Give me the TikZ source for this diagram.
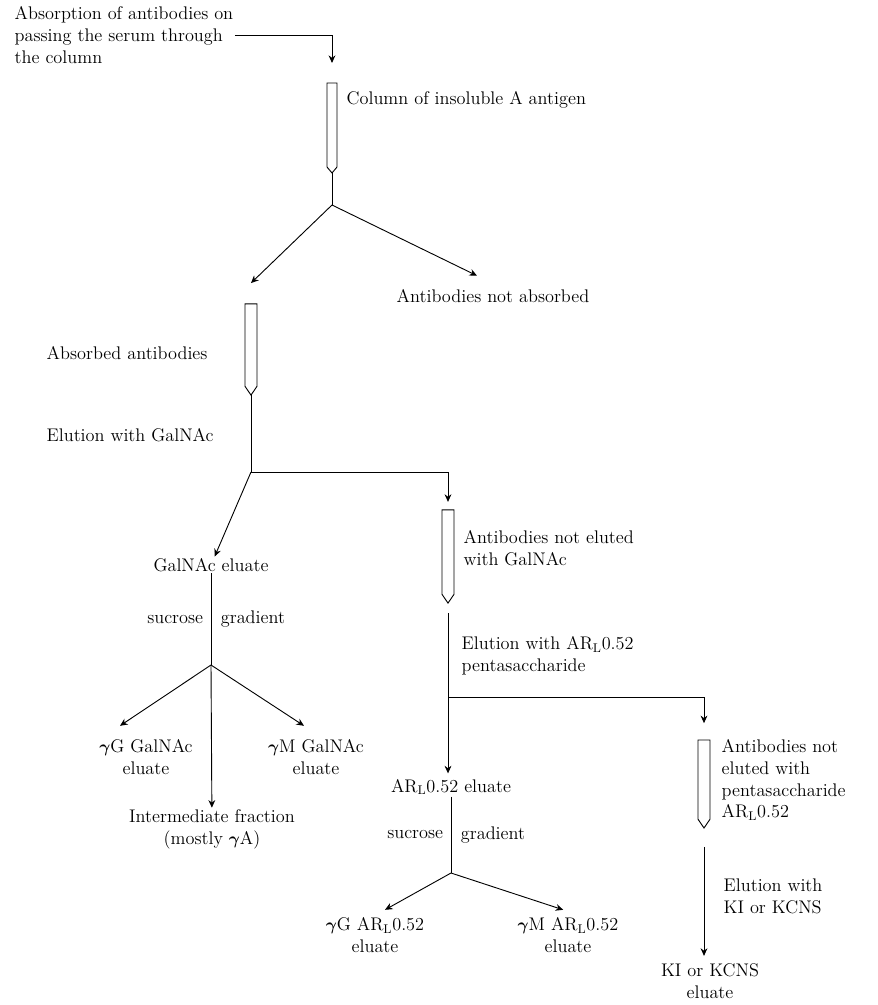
\documentclass[tikz,border=0pt]{standalone}
\usepackage{amsmath,amssymb}
\usepackage{tikz}
\usetikzlibrary{arrows.meta, positioning, calc}
\tikzstyle{txt} = [font=\fontsize{13}{15.5}\selectfont, inner sep=1pt, align=center]
\tikzstyle{lab} = [txt, align=left, anchor=west]
\tikzstyle{tube} = [rectangle, minimum width=0.3cm, inner sep=0pt, outer sep=0pt]
\tikzstyle{ln} = [line width=0.65pt]
\tikzstyle{arr} = [-{Stealth[length=1.9mm, width=1.7mm]}, line width=0.65pt]
\newcommand{\tubeoutline}[2][0.22cm]{\draw[ln] (#2.north west) -- (#2.north east) -- ([yshift=#1]#2.south east) -- (#2.south) -- ([yshift=#1]#2.south west) -- cycle;}
\newcommand{\ARL}{AR$_{\mathrm{L}}$0.52}
\newcommand{\gam}{$\boldsymbol{\gamma}$}

\begin{document}
\begin{tikzpicture}[x=0.025cm, y=-0.025cm]
  \useasboundingbox (0,0) rectangle (877,1005);
  % Step 1: serum through the antigen column
  \node[lab] (serum) at (13,35) {Absorption of antibodies on\\passing the serum through\\the column};
  \node[tube, minimum width=0.25cm, minimum height=2.25cm] (col1) at (332,128) {};
  \tubeoutline[0.15cm]{col1}
  \node[lab] (col1lab) at (345,100) {Column of insoluble A antigen};
  \coordinate (j1) at (332,205);
  \node[txt] (notabs) at (493,296) {Antibodies not absorbed};
  \draw[arr, shorten >=0.5cm] (serum.east) -| (col1.north);
  \draw[ln] (col1.south) -- (j1);
  \draw[arr] (j1) -- ([xshift=-0.4cm, yshift=0.3cm]notabs.north);
  % Step 2: absorbed antibodies, elution with GalNAc
  \node[tube, minimum height=2.28cm] (col2) at (251,349.5) {};
  \tubeoutline{col2}
  \draw[arr] (j1) -- ([yshift=0.52cm]col2.north);
  \node[lab] (absab) at (45,353) {Absorbed antibodies};
  \node[lab] (elgal) at (45,435) {Elution with GalNAc};
  \coordinate (j2) at (251,472);
  \draw[ln] (col2.south) -- (j2);
  \node[txt] (galel) at (211,565) {GalNAc eluate};
  \draw[arr] (j2) -- (galel);
  % GalNAc eluate on sucrose gradient
  \coordinate (j3) at (211,665);
  \draw[ln] (galel) -- node[txt, left=0.15cm]{sucrose} node[txt, right=0.2cm]{gradient} (j3);
  \node[txt] (gG1) at (146,757) {\gam G GalNAc\\eluate};
  \node[txt] (gM1) at (316,757) {\gam M GalNAc\\eluate};
  \node[txt] (inter) at (212,829) {Intermediate fraction\\(mostly \gam A)};
  \draw[arr] (j3) -- ([xshift=-0.65cm, yshift=0.3cm]gG1.north);
  \draw[arr] (j3) -- ([xshift=-0.3cm, yshift=0.3cm]gM1.north);
  \draw[arr] (j3) -- (inter);
  % Step 3: antibodies not eluted with GalNAc
  \node[tube, minimum height=2.33cm] (col3) at (448,556.5) {};
  \tubeoutline{col3}
  \node[lab] (col3lab) at (462,548) {Antibodies not eluted\\with GalNAc};
  \draw[arr, shorten >=0.2cm] (j2) -| (col3.north);
  \coordinate (j4) at (448,697);
  \draw[ln, shorten <=0.25cm] (col3.south) -- (j4);
  \node[lab] (elAR) at (460,656) {Elution with \ARL\\pentasaccharide};
  \node[txt] (ARel) at (451,787) {\ARL{} eluate};
  \draw[arr, shorten >=0.1cm] (j4) -- (j4 |- ARel.north);
  % AR eluate on sucrose gradient
  \coordinate (j5) at (451,873);
  \draw[ln] (ARel) -- node[txt, left=0.15cm]{sucrose} node[txt, right=0.2cm]{gradient} (j5);
  \node[txt] (gG2) at (375,935) {\gam G \ARL\\eluate};
  \node[txt] (gM2) at (568,935) {\gam M \ARL\\eluate};
  \draw[arr] (j5) -- ([xshift=0.25cm, yshift=0.15cm]gG2.north);
  \draw[arr] (j5) -- ([xshift=-0.12cm, yshift=0.15cm]gM2.north);
  % Step 4: antibodies not eluted with pentasaccharide
  \node[tube, minimum height=2.2cm] (col4) at (704,784) {};
  \tubeoutline{col4}
  \node[lab] (col4lab) at (720,780) {Antibodies not\\eluted with\\pentasaccharide\\\ARL};
  \draw[arr, shorten >=0.42cm] (j4) -| (col4.north);
  \node[lab] (elKI) at (722,896) {Elution with\\KI or KCNS};
  \node[txt] (kiel) at (710,981) {KI or KCNS\\eluate};
  \draw[arr, shorten <=0.47cm, shorten >=0.15cm] (col4.south) -- (col4.south |- kiel.north);
\end{tikzpicture}
\end{document}
